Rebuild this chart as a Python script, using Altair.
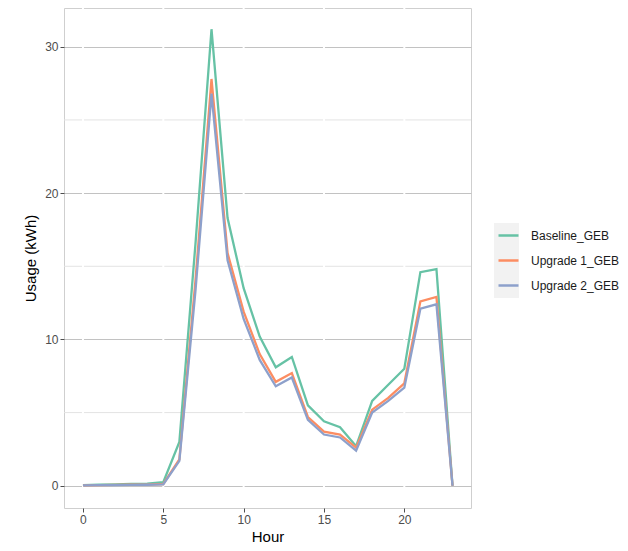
import altair as alt
import pandas as pd

hours = list(range(24))
series_names = ["Baseline_GEB", "Upgrade 1_GEB", "Upgrade 2_GEB"]
baseline = [0.05, 0.08, 0.1, 0.12, 0.15, 0.25, 3.0, 16.5, 31.2, 18.3, 13.5, 10.2,
            8.1, 8.8, 5.5, 4.4, 4.0, 2.7, 5.8, 6.9, 8.0, 14.6, 14.8, 0.0]
upgrade1 = [0.03, 0.05, 0.06, 0.07, 0.08, 0.12, 1.8, 14.0, 27.8, 15.9, 11.9, 9.0,
            7.1, 7.7, 4.7, 3.7, 3.5, 2.6, 5.2, 6.0, 7.0, 12.6, 12.9, 0.0]
upgrade2 = [0.03, 0.04, 0.05, 0.06, 0.07, 0.1, 1.7, 13.3, 26.8, 15.4, 11.4, 8.6,
            6.8, 7.4, 4.5, 3.5, 3.3, 2.4, 5.0, 5.8, 6.7, 12.1, 12.4, 0.0]
colors = ["#66c2a5", "#fc8d62", "#8da0cb"]
x_ticks = [0, 5, 10, 15, 20]
y_ticks = [0, 10, 20, 30]
y_minor = [5, 15, 25]

rows = []
for name, vals in zip(series_names, [baseline, upgrade1, upgrade2]):
    for h, v in zip(hours, vals):
        rows.append({"Hour": h, "Usage": v, "Series": name})
df = pd.DataFrame(rows)

FONT = "Liberation Sans"
xscale = alt.Scale(domain=[-1.18, 24.15], nice=False, zero=False)
yscale = alt.Scale(domain=[-1.52, 32.65], nice=False, zero=False)
xaxis = alt.Axis(values=x_ticks, grid=False, title="Hour", format="d")
yaxis = alt.Axis(values=y_ticks, grid=True, title="Usage (kWh)", format="d")

minor = alt.Chart(pd.DataFrame({"v": y_minor})).mark_rule(
    color="#e3e3e3", strokeWidth=1
).encode(y=alt.Y("v:Q", scale=yscale, axis=yaxis))

vbreaks = alt.Chart(pd.DataFrame({"v": x_ticks})).mark_rule(
    color="white", strokeWidth=2
).encode(x=alt.X("v:Q", scale=xscale, axis=xaxis))

keybg = alt.Chart(pd.DataFrame({"a": [0]})).mark_rect(color="#f2f2f2").encode(
    x=alt.value(430), x2=alt.value(455), y=alt.value(215), y2=alt.value(290)
)

lines = alt.Chart(df).mark_line(strokeWidth=2.3).encode(
    x=alt.X("Hour:Q", scale=xscale, axis=xaxis),
    y=alt.Y("Usage:Q", scale=yscale, axis=yaxis),
    color=alt.Color("Series:N",
                    scale=alt.Scale(domain=series_names, range=colors),
                    legend=alt.Legend(title=None, orient="none", legendX=433, legendY=216,
                                      symbolType="stroke", symbolSize=400,
                                      symbolStrokeWidth=2.5, labelOffset=11,
                                      rowPadding=7, padding=0,
                                      labelFontSize=12, labelFont=FONT,
                                      labelColor="#1a1a1a")),
    detail="Series:N",
)

chart = alt.layer(minor, vbreaks, keybg, lines).properties(
    width=407, height=500,
    autosize=alt.AutoSizeParams(type="none"),
    padding={"left": 56, "top": 0, "right": 149, "bottom": 40},
).configure_view(
    stroke="#cfcfcf", strokeWidth=1
).configure_axis(
    domain=False,
    gridColor="#c2c2c2", gridWidth=1,
    tickColor="#4d4d4d", tickSize=4, tickWidth=1,
    labelColor="#4d4d4d", labelFontSize=12, labelFont=FONT, labelPadding=2,
    titleFont=FONT, titleFontSize=15, titleFontWeight="normal", titleColor="#000000",
).configure_axisX(
    titlePadding=4
).configure_axisY(
    titlePadding=6
)

chart.save("out.html", embed_options={"renderer": "svg", "actions": False})
